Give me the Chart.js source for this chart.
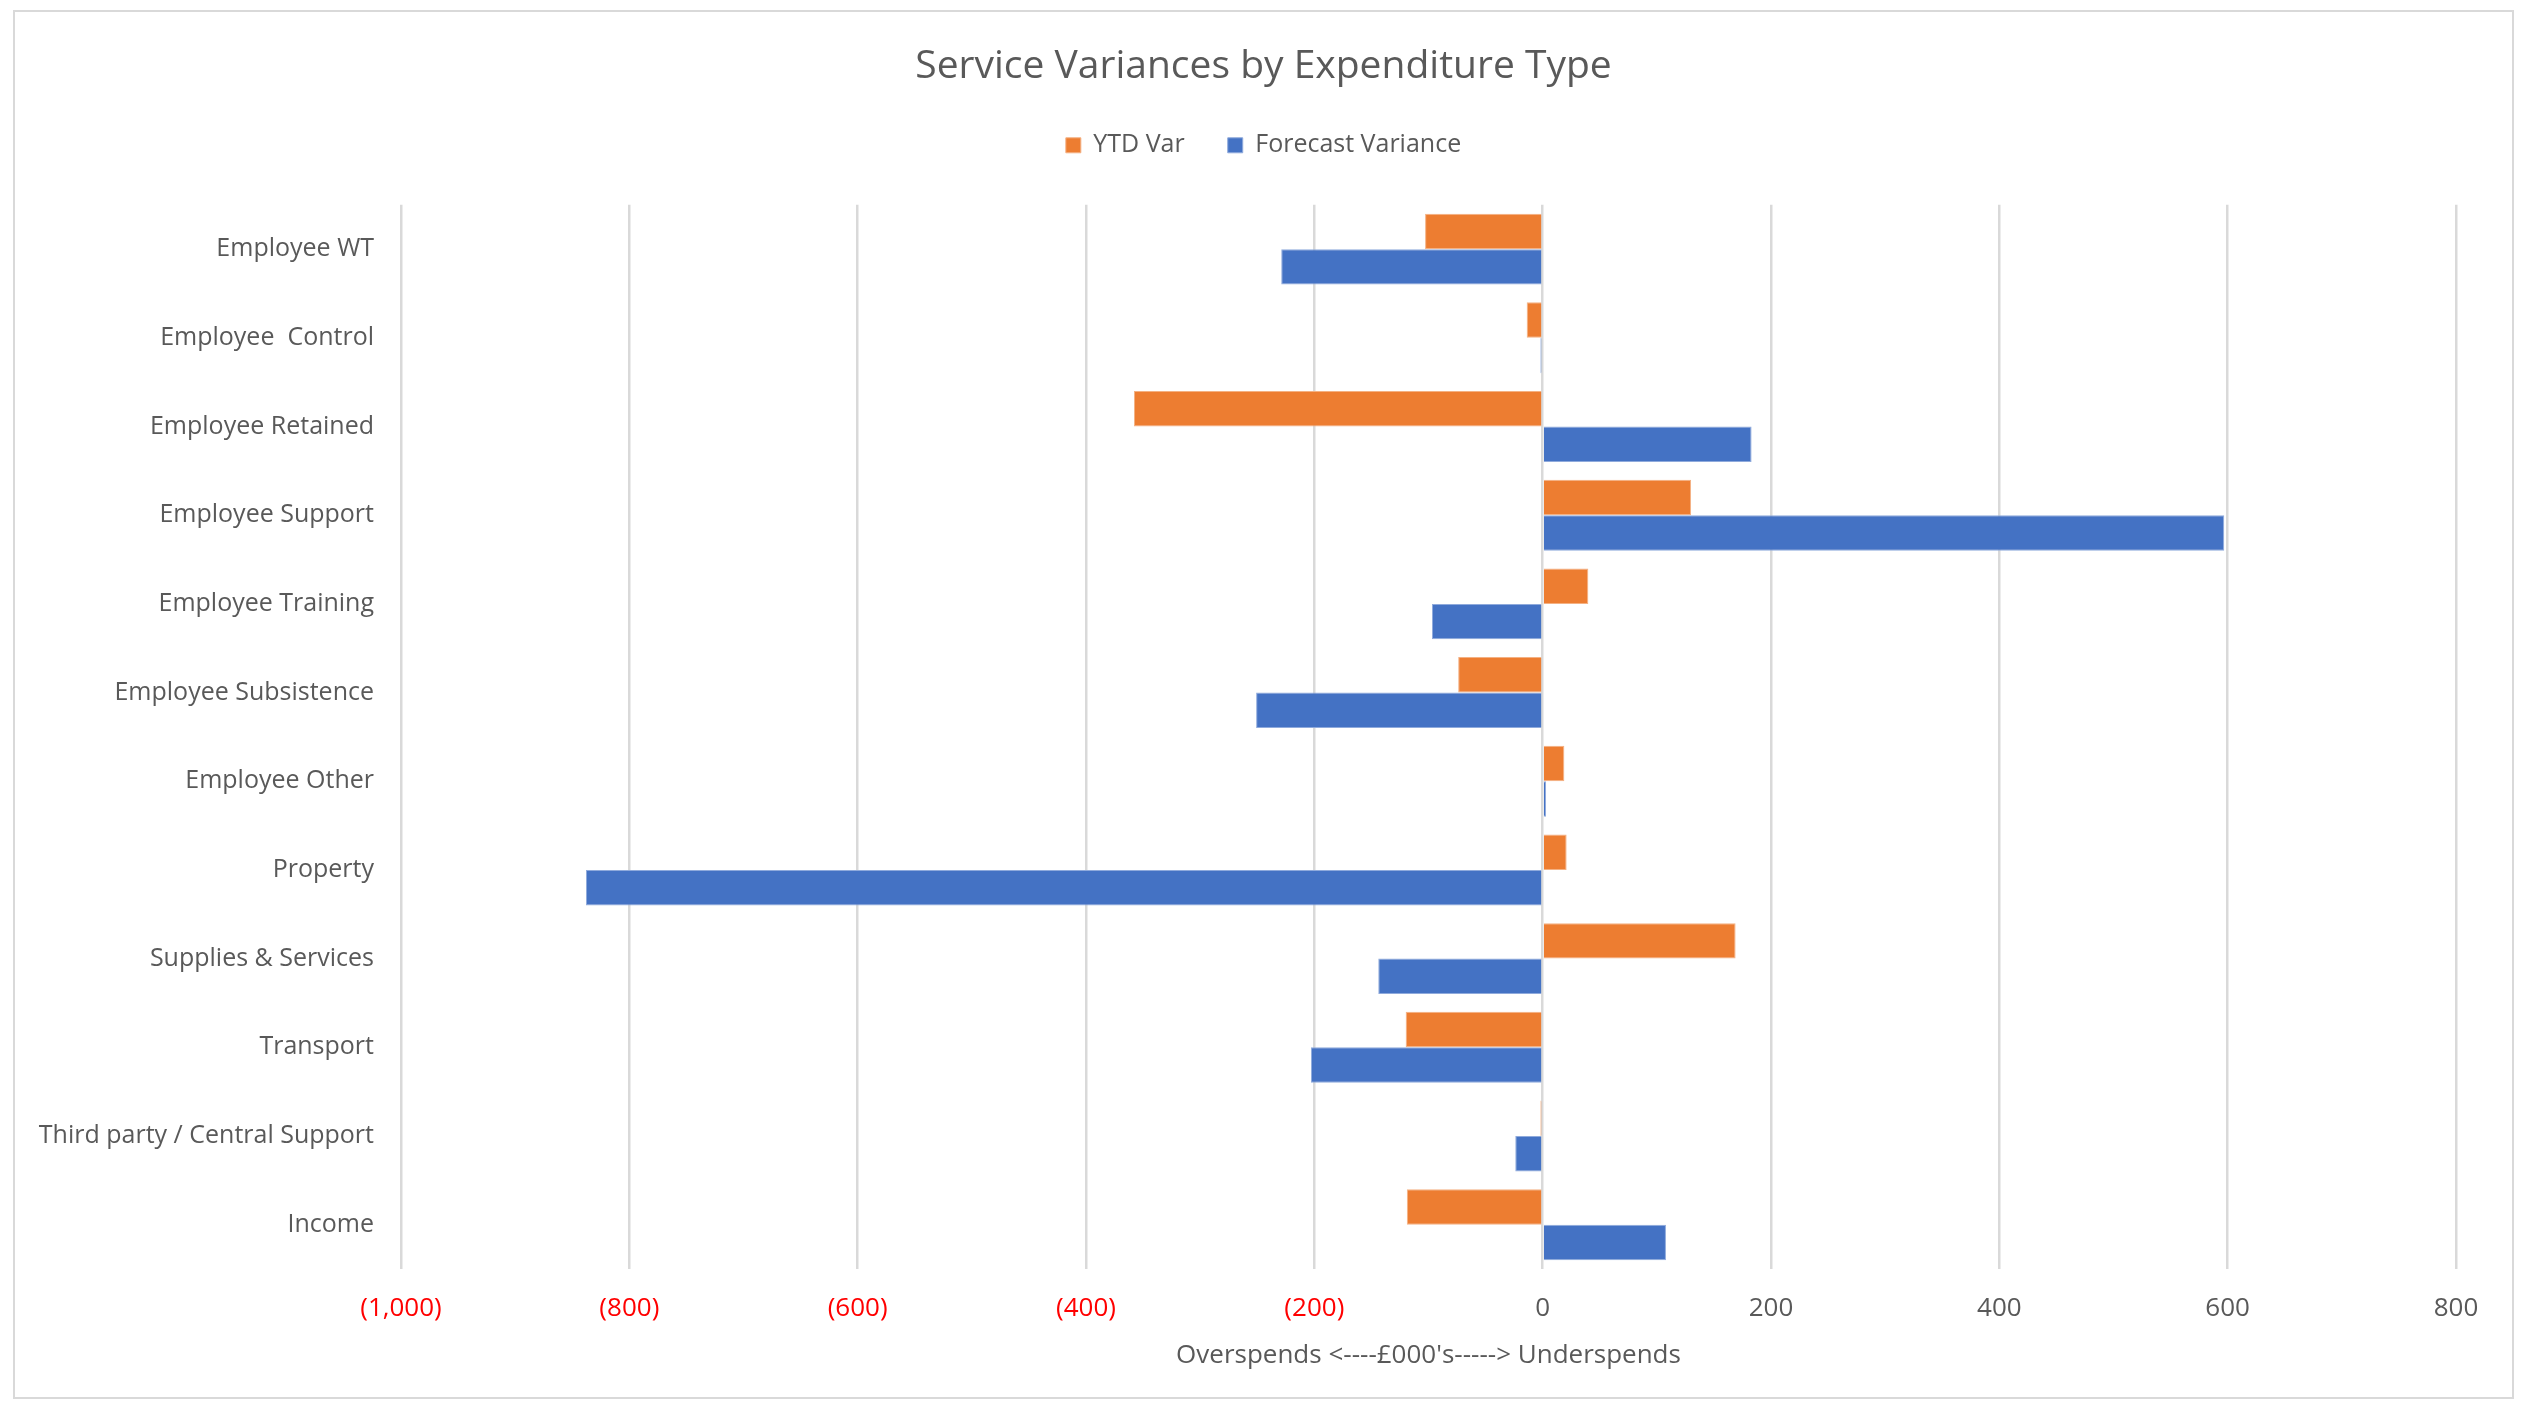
<!DOCTYPE html>
<html>
<head>
<meta charset="utf-8">
<title>Service Variances by Expenditure Type</title>
<script src="https://cdn.jsdelivr.net/npm/chart.js@4"></script>
<style>
  html, body { margin: 0; padding: 0; background: #fff; overflow: hidden; }
  #wrap { position: relative; width: 2527px; height: 1403px; }
  #frame {
    position: absolute; left: 13px; top: 10px; width: 2497px; height: 1385px;
    border: 2px solid #D9D9D9; pointer-events: none;
  }
</style>
</head>
<body>
<div id="wrap">
  <canvas id="varianceChart" width="2527" height="1403"></canvas>
  <div id="frame"></div>
</div>
<script>
// Expenditure types, top to bottom
const categories = [
  'Employee WT',
  'Employee  Control',
  'Employee Retained',
  'Employee Support',
  'Employee Training',
  'Employee Subsistence',
  'Employee Other',
  'Property',
  'Supplies & Services',
  'Transport',
  'Third party / Central Support',
  'Income'
];

// £000's, negative = overspend
const ytdVar = [-103, -14, -358, 130, 40, -74, 19, 21, 169, -120, -2, -119];
const forecastVariance = [-229, -2, 183, 597, -97, -251, 3, -838, -144, -203, -24, 108];

// x axis range and step
const xTicks = [-1000, -800, -600, -400, -200, 0, 200, 400, 600, 800];

const textGrey = '#595959';
const fontFamily = "'Open Sans', 'Noto Sans', sans-serif";

function fmtThousands(v) {
  const s = Math.abs(v).toLocaleString('en-GB');
  return v < 0 ? '(' + s + ')' : s;
}

const ctx = document.getElementById('varianceChart').getContext('2d');
const chart = new Chart(ctx, {
  type: 'bar',
  data: {
    labels: categories,
    datasets: [
      {
        label: 'YTD Var',
        data: ytdVar,
        backgroundColor: '#ED7D31',
        borderColor: '#F4B183',
        borderWidth: 1
      },
      {
        label: 'Forecast Variance',
        data: forecastVariance,
        backgroundColor: '#4472C4',
        borderColor: '#8FAADC',
        borderWidth: 1
      }
    ]
  },
  options: {
    indexAxis: 'y',
    responsive: false,
    animation: false,
    devicePixelRatio: 1,
    categoryPercentage: 0.8,
    barPercentage: 1.0,
    layout: { padding: 0 },
    plugins: {
      title: {
        display: true,
        text: 'Service Variances by Expenditure Type',
        color: textGrey,
        font: { family: fontFamily, size: 39, weight: 'normal' },
        padding: { top: 43, bottom: 0 }
      },
      legend: {
        display: true,
        position: 'top',
        labels: {
          color: textGrey,
          font: { family: fontFamily, size: 25 },
          boxWidth: 15,
          boxHeight: 15,
          padding: 43
        }
      },
      // empty subtitle used as a spacer between legend and plot
      subtitle: {
        display: true,
        text: '',
        weight: 500,
        font: { size: 10, lineHeight: 1 },
        padding: { top: 0, bottom: 27 }
      },
      tooltip: { enabled: false }
    },
    scales: {
      x: {
        min: -1000,
        max: 800,
        afterBuildTicks: axis => {
          axis.ticks = xTicks.map(v => ({ value: v }));
        },
        afterFit: axis => { axis.height = 134; },
        grid: {
          color: '#D9D9D9',
          lineWidth: 2.5,
          drawTicks: false
        },
        border: { display: false },
        ticks: {
          padding: 24,
          font: { family: fontFamily, size: 26 },
          color: c => (c.tick && c.tick.value < 0 ? '#FF0000' : textGrey),
          callback: v => fmtThousands(v)
        },
        title: {
          display: true,
          text: "Overspends <----£000's-----> Underspends",
          color: textGrey,
          font: { family: fontFamily, size: 26 },
          padding: { top: 0, bottom: 32 }
        }
      },
      y: {
        afterFit: axis => { axis.width = 401; },
        grid: { display: false, drawTicks: false },
        border: { display: false },
        ticks: {
          padding: 27,
          color: textGrey,
          font: { family: fontFamily, size: 25 }
        }
      },
      // blank right-hand margin so the title stays centred on the canvas
      yRight: {
        type: 'category',
        position: 'right',
        afterFit: axis => { axis.width = 71; },
        grid: { display: false, drawTicks: false },
        border: { display: false },
        ticks: { display: false }
      }
    }
  }
});
</script>
</body>
</html>
